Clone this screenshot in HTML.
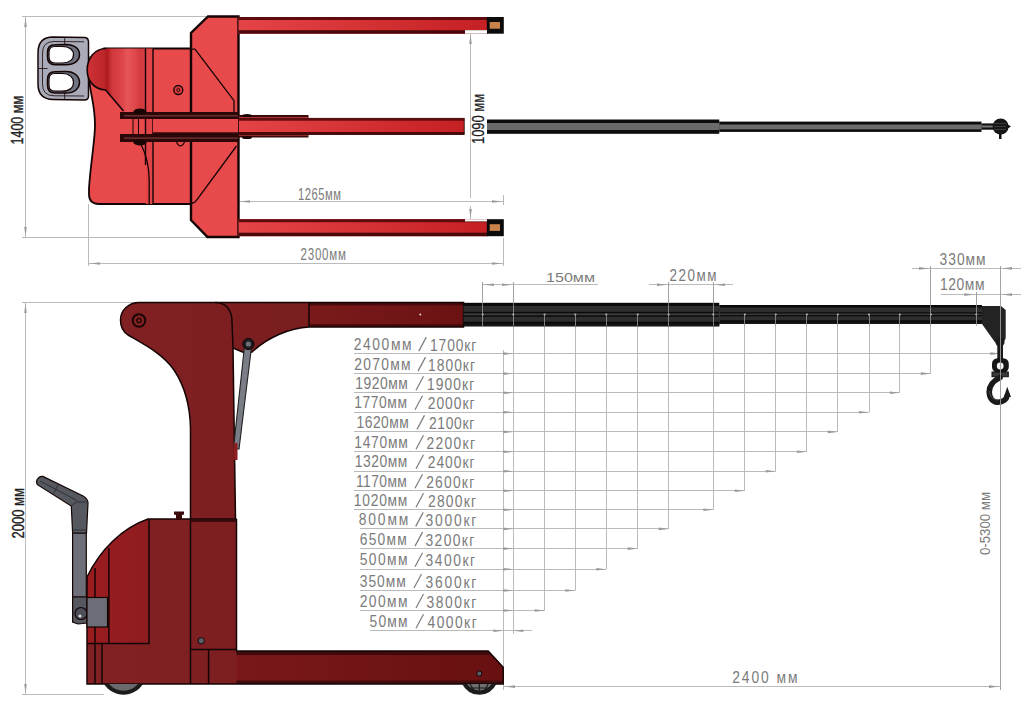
<!DOCTYPE html><html><head><meta charset="utf-8"><style>
html,body{margin:0;padding:0;background:#fff;width:1024px;height:712px;overflow:hidden}
svg{display:block;font-family:"Liberation Sans", sans-serif}
</style></head><body>
<svg width="1024" height="712" viewBox="0 0 1024 712">
<defs>
<linearGradient id="gFork" x1="0" x2="1" y1="0" y2="0"><stop offset="0" stop-color="#e54446"/><stop offset="1" stop-color="#c52023"/></linearGradient>
<linearGradient id="gBulge" x1="0" x2="1" y1="0" y2="0">
 <stop offset="0" stop-color="#cf3336"/><stop offset="0.28" stop-color="#bd272a"/><stop offset="0.34" stop-color="#ae1c20"/><stop offset="0.42" stop-color="#d0383b"/><stop offset="0.6" stop-color="#dd4649"/><stop offset="0.68" stop-color="#e65557"/><stop offset="0.8" stop-color="#e04a4d"/><stop offset="0.9" stop-color="#d33b3e"/><stop offset="1" stop-color="#d53d40"/></linearGradient>
<linearGradient id="gSide" x1="0" x2="1" y1="0" y2="0"><stop offset="0" stop-color="#822123"/><stop offset="0.45" stop-color="#7b1e20"/><stop offset="1" stop-color="#741a1b"/></linearGradient>
<linearGradient id="gLeg" x1="0" x2="1" y1="0" y2="0"><stop offset="0" stop-color="#7a1819"/><stop offset="1" stop-color="#681011"/></linearGradient>
<linearGradient id="gBoomR" x1="0" x2="1" y1="0" y2="0"><stop offset="0" stop-color="#7a1a1b"/><stop offset="1" stop-color="#6c1213"/></linearGradient>
<linearGradient id="gNose" x1="0" x2="1" y1="0" y2="0"><stop offset="0" stop-color="#9a1c20"/><stop offset="1" stop-color="#8e1d20"/></linearGradient>
</defs>

<line x1="22" y1="16.5" x2="208" y2="16.5" stroke="#bababa" stroke-width="1"/>
<line x1="22" y1="237.5" x2="207" y2="237.5" stroke="#bababa" stroke-width="1"/>
<line x1="25.5" y1="16.5" x2="25.5" y2="237.5" stroke="#bababa" stroke-width="1"/>
<path d="M25.5,18 L24.2,27 L26.8,27 Z" fill="#9a9a9a"/>
<path d="M25.5,236 L24.2,227 L26.8,227 Z" fill="#9a9a9a"/>
<text transform="translate(22.5,144.5) rotate(-90)" x="0" y="0" font-size="16" fill="#1e1e1e" stroke="#1e1e1e" stroke-width="0.35" textLength="48.5" lengthAdjust="spacingAndGlyphs">1400 мм</text>
<line x1="88.5" y1="204" x2="88.5" y2="266" stroke="#bababa" stroke-width="1"/>
<line x1="88.5" y1="263.5" x2="503.5" y2="263.5" stroke="#bababa" stroke-width="1"/>
<path d="M90,263.5 L100,262.2 L100,264.8 Z" fill="#9a9a9a"/>
<path d="M502,263.5 L492,262.2 L492,264.8 Z" fill="#9a9a9a"/>
<line x1="503.5" y1="238" x2="503.5" y2="266" stroke="#bababa" stroke-width="1"/>
<text transform="translate(300.5,259.6) scale(0.7,1)" x="0" y="0" font-size="16.5" fill="#7b7b7b" textLength="65.0" lengthAdjust="spacing" >2300мм</text>
<line x1="238" y1="201.5" x2="503.5" y2="201.5" stroke="#bababa" stroke-width="1"/>
<path d="M240,201.5 L250,200.2 L250,202.8 Z" fill="#9a9a9a"/>
<path d="M502,201.5 L492,200.2 L492,202.8 Z" fill="#9a9a9a"/>
<line x1="503.5" y1="195" x2="503.5" y2="205" stroke="#bababa" stroke-width="1"/>
<text transform="translate(298.0,199.6) scale(0.68,1)" x="0" y="0" font-size="16.5" fill="#7b7b7b" textLength="63.24" lengthAdjust="spacing" >1265мм</text>
<line x1="470.5" y1="34" x2="470.5" y2="198" stroke="#bababa" stroke-width="1"/>
<line x1="470.5" y1="206" x2="470.5" y2="219" stroke="#bababa" stroke-width="1"/>
<path d="M470.5,35 L469.2,44 L471.8,44 Z" fill="#9a9a9a"/>
<path d="M470.5,218 L469.2,209 L471.8,209 Z" fill="#9a9a9a"/>
<text transform="translate(484,144) rotate(-90)" x="0" y="0" font-size="16" fill="#1e1e1e" stroke="#1e1e1e" stroke-width="0.3" textLength="50" lengthAdjust="spacingAndGlyphs">1090 мм</text>
<g stroke="#140404" stroke-width="1.5">
<path d="M84.7,56 L89,56 L89,79.5 L84.7,79.5 Z" fill="#8a8d98" stroke-width="0.8"/>
<path d="M53,37 L85,37.5 Q88.5,38 88.5,42 L88.5,96 Q88.5,100 84.5,100 L53,99.5 Q38,99 38,84 L38,53 Q38,37 53,37 Z" fill="#a9acb8"/>
<path d="M84,41.8 L54,41.5 Q42.5,41.5 42.5,53 L42.5,84 Q42.5,95.8 54,95.8 L84,96" fill="none" stroke-width="0.8"/>
<path d="M64.7,37.5 L64.7,44.5 M38.5,68.5 L47.5,68.5 M64.7,93 L64.7,99.5" fill="none" stroke-width="0.8"/>
<path d="M55,44.8 L66,44.5 C74.5,44.5 79.5,49 79.5,54.5 C79.5,60.5 74.5,64.8 66,64.8 L55,64.8 Q47.5,64.8 47.5,57 L47.5,52.5 Q47.5,44.8 55,44.8 Z" fill="#6f7281"/>
<path d="M62,46.5 C69.5,46.5 73.5,50 73.5,54.5 C73.5,59.5 69.5,63 62,63 L55,63 Q49,63 49,57 L49,52.5 Q49,46.5 55,46.5 Z" fill="#fff" stroke-width="1.2"/>
<path d="M55,71.8 L66,71.6 C74.5,71.6 79.5,76.5 79.5,82.3 C79.5,88.5 74.5,93 66,93 L55,93 Q47.5,93 47.5,85.2 L47.5,79.5 Q47.5,71.8 55,71.8 Z" fill="#6f7281"/>
<path d="M62,73.5 C69.5,73.5 73.5,77.5 73.5,82.3 C73.5,87.5 69.5,91.2 62,91.2 L55,91.2 Q49,91.2 49,85.2 L49,79.5 Q49,73.5 55,73.5 Z" fill="#fff" stroke-width="1.2"/>
</g>
<path d="M104,48.5 L191,48.5 L191,204 L99,204 Q89,204 89,194 L89,188 C91,160 95,140 95,125 C95,105 90,92 89.5,82 Z" fill="#e84a4c" stroke="#140404" stroke-width="1.8"/>
<path d="M106,48.5 L146,48.5 L146,112 L123.5,112 L105.6,90 C93,89 87.2,80 87.2,70 C87.2,58 95,48.5 106,48.5 Z" fill="url(#gBulge)"/>
<path d="M106,48.5 C95,48.5 87.2,58 87.2,70 C87.2,80 93,89 105.6,90 L123.5,111" fill="none" stroke="#140404" stroke-width="1.6"/>
<rect x="146" y="48.5" width="7" height="155.5" fill="#e04446"/>
<path d="M145.5,48.5 L145.5,165" stroke="#140404" stroke-width="1.4"/>
<line x1="153" y1="48.5" x2="153" y2="204" stroke="#140404" stroke-width="1.4"/>
<path d="M140.8,144 C145,152 149,165 149.2,180 L149.2,204" fill="none" stroke="#140404" stroke-width="1.3"/>

<path d="M208,16.5 L238.5,16.5 L238.5,237 L207.5,237 L191,220 L191,33 Z" fill="#e84a4c" stroke="#140404" stroke-width="2.4"/>
<path d="M191,49.2 L195,49.2 L234,100.7 L234,113" fill="none" stroke="#140404" stroke-width="1.3"/>
<path d="M236.5,146 L196.7,200 Q195,203 191,203.5" fill="none" stroke="#140404" stroke-width="1.3"/>
<circle cx="178.3" cy="90" r="4.5" fill="#d23a3c" stroke="#140404" stroke-width="1.3"/>
<circle cx="178.3" cy="90" r="1.5" fill="none" stroke="#140404" stroke-width="0.8"/>
<path d="M176,141 Q180.5,151 185,141" fill="none" stroke="#140404" stroke-width="1.2"/>

<rect x="238.5" y="17" width="249" height="16.700000000000003" fill="url(#gFork)"/>
<rect x="238.5" y="17" width="249" height="3" fill="#5e0b0d"/>
<rect x="238.5" y="30.200000000000003" width="249" height="3.5" fill="#4a080a"/>
<rect x="486.8" y="17" width="17" height="16.700000000000003" fill="#0b0b0b"/>
<rect x="489.7" y="22" width="10.3" height="6.7" fill="#c9834a"/>
<rect x="238.5" y="219.2" width="249" height="17.0" fill="url(#gFork)"/>
<rect x="238.5" y="219.2" width="249" height="3" fill="#5e0b0d"/>
<rect x="238.5" y="232.7" width="249" height="3.5" fill="#4a080a"/>
<rect x="486.8" y="219.2" width="17" height="17.0" fill="#0b0b0b"/>
<rect x="489.7" y="224.2" width="10.3" height="6.7" fill="#c9834a"/>
<rect x="465" y="30.2" width="22" height="3.5" fill="#fff"/>
<rect x="465" y="219.2" width="22" height="2.2" fill="#fff"/>
<rect x="238.5" y="115" width="70" height="22.5" fill="#3b0a0b"/>
<rect x="238.5" y="117.2" width="70" height="18.3" fill="#e04a4c"/>
<rect x="120" y="112" width="118.5" height="7" fill="#2c0708"/>
<rect x="120" y="134" width="118.5" height="8" fill="#2c0708"/>
<rect x="124" y="115.2" width="114" height="1.2" fill="#7a3a3b"/>
<rect x="124" y="137.5" width="114" height="1.2" fill="#7a3a3b"/>
<rect x="153" y="119" width="85.5" height="15" fill="#e84a4c"/>
<rect x="153" y="132.3" width="85.5" height="1.8" fill="#2c0708"/>
<rect x="238.5" y="118.3" width="225.7" height="16.2" fill="url(#gFork)" stroke="#140404" stroke-width="0.8"/>
<rect x="238.5" y="118.3" width="225.7" height="2.4" fill="#5e0b0d"/>
<rect x="238.5" y="132" width="225.7" height="2.5" fill="#4a080a"/>
<path d="M133,119 L133,134 M138.5,119 L138.5,134" stroke="#140404" stroke-width="1"/>
<ellipse cx="140" cy="111.5" rx="6.5" ry="3" fill="#1a0505"/>
<ellipse cx="140" cy="142.5" rx="6.5" ry="3" fill="#1a0505"/>
<ellipse cx="247" cy="115.5" rx="5" ry="1.6" fill="#1a0505"/>
<ellipse cx="247" cy="137.5" rx="5" ry="1.6" fill="#1a0505"/>

<rect x="487" y="119.5" width="232.3" height="14.3" fill="#0c0c0c"/>
<rect x="487" y="123" width="232.3" height="7" fill="#6a6a6a"/>
<rect x="719.3" y="121.6" width="262.2" height="10.3" fill="#0c0c0c"/>
<rect x="719.3" y="124.5" width="262.2" height="4.9" fill="#6a6a6a"/>
<rect x="981.5" y="123.4" width="13" height="6.3" fill="#111"/>
<rect x="981.5" y="125.5" width="13" height="2" fill="#777"/>
<circle cx="1000.6" cy="126.5" r="8" fill="#161616"/>
<path d="M1007,124 L1011,126.5 L1007,129 Z" fill="#111"/>
<rect x="999" y="133" width="2.5" height="6" fill="#111"/>
<path d="M994,123.5 L1006,123.5 M994,126.5 L1006,126.5 M994,129.5 L1006,129.5" stroke="#555" stroke-width="0.6"/>

<line x1="22" y1="302.5" x2="135" y2="302.5" stroke="#bababa" stroke-width="1"/>
<line x1="22" y1="694.5" x2="104" y2="694.5" stroke="#bababa" stroke-width="1"/>
<line x1="25.5" y1="302.5" x2="25.5" y2="694.5" stroke="#bababa" stroke-width="1"/>
<path d="M25.5,304 L24.2,313 L26.8,313 Z" fill="#9a9a9a"/>
<path d="M25.5,693 L24.2,684 L26.8,684 Z" fill="#9a9a9a"/>
<text transform="translate(23.6,538.6) rotate(-90)" x="0" y="0" font-size="16.5" fill="#1e1e1e" stroke="#1e1e1e" stroke-width="0.35" textLength="50.60000000000002" lengthAdjust="spacingAndGlyphs">2000 мм</text>
<line x1="513.5" y1="314" x2="513.5" y2="634" stroke="#bababa" stroke-width="1"/>
<line x1="544.5" y1="314" x2="544.5" y2="610.5" stroke="#bababa" stroke-width="1"/>
<line x1="575.5" y1="314" x2="575.5" y2="590.5" stroke="#bababa" stroke-width="1"/>
<line x1="606.5" y1="314" x2="606.5" y2="569.2" stroke="#bababa" stroke-width="1"/>
<line x1="637.5" y1="314" x2="637.5" y2="548.6" stroke="#bababa" stroke-width="1"/>
<line x1="668.5" y1="314" x2="668.5" y2="528.9" stroke="#bababa" stroke-width="1"/>
<line x1="713.5" y1="314" x2="713.5" y2="509.8" stroke="#bababa" stroke-width="1"/>
<line x1="744.5" y1="314" x2="744.5" y2="490.7" stroke="#bababa" stroke-width="1"/>
<line x1="775.5" y1="314" x2="775.5" y2="471.2" stroke="#bababa" stroke-width="1"/>
<line x1="806.5" y1="314" x2="806.5" y2="451.7" stroke="#bababa" stroke-width="1"/>
<line x1="837.5" y1="314" x2="837.5" y2="431.9" stroke="#bababa" stroke-width="1"/>
<line x1="869.5" y1="314" x2="869.5" y2="412.2" stroke="#bababa" stroke-width="1"/>
<line x1="899.5" y1="314" x2="899.5" y2="392.7" stroke="#bababa" stroke-width="1"/>
<line x1="930.5" y1="314" x2="930.5" y2="373.6" stroke="#bababa" stroke-width="1"/>
<line x1="976.5" y1="314" x2="976.5" y2="306" stroke="#bababa" stroke-width="1"/>
<line x1="1000.5" y1="314" x2="1000.5" y2="690" stroke="#bababa" stroke-width="1"/>
<line x1="503.5" y1="350" x2="503.5" y2="690" stroke="#bababa" stroke-width="1"/>
<line x1="354" y1="353.5" x2="1000.4" y2="353.5" stroke="#bababa" stroke-width="1"/>
<path d="M513.3,353.6 L503.29999999999995,352.3 L503.29999999999995,354.90000000000003 Z" fill="#9a9a9a"/>
<path d="M1000.4,353.6 L990.4,352.3 L990.4,354.90000000000003 Z" fill="#9a9a9a"/>
<line x1="354" y1="373.5" x2="930.9" y2="373.5" stroke="#bababa" stroke-width="1"/>
<path d="M513.3,373.6 L503.29999999999995,372.3 L503.29999999999995,374.90000000000003 Z" fill="#9a9a9a"/>
<path d="M930.9,373.6 L920.9,372.3 L920.9,374.90000000000003 Z" fill="#9a9a9a"/>
<line x1="354" y1="392.5" x2="899.8" y2="392.5" stroke="#bababa" stroke-width="1"/>
<path d="M513.3,392.7 L503.29999999999995,391.4 L503.29999999999995,394.0 Z" fill="#9a9a9a"/>
<path d="M899.8,392.7 L889.8,391.4 L889.8,394.0 Z" fill="#9a9a9a"/>
<line x1="354" y1="412.5" x2="869" y2="412.5" stroke="#bababa" stroke-width="1"/>
<path d="M513.3,412.2 L503.29999999999995,410.9 L503.29999999999995,413.5 Z" fill="#9a9a9a"/>
<path d="M869,412.2 L859,410.9 L859,413.5 Z" fill="#9a9a9a"/>
<line x1="354" y1="431.5" x2="837.8" y2="431.5" stroke="#bababa" stroke-width="1"/>
<path d="M513.3,431.9 L503.29999999999995,430.59999999999997 L503.29999999999995,433.2 Z" fill="#9a9a9a"/>
<path d="M837.8,431.9 L827.8,430.59999999999997 L827.8,433.2 Z" fill="#9a9a9a"/>
<line x1="354" y1="451.5" x2="806.9" y2="451.5" stroke="#bababa" stroke-width="1"/>
<path d="M513.3,451.7 L503.29999999999995,450.4 L503.29999999999995,453.0 Z" fill="#9a9a9a"/>
<path d="M806.9,451.7 L796.9,450.4 L796.9,453.0 Z" fill="#9a9a9a"/>
<line x1="354" y1="471.5" x2="775.7" y2="471.5" stroke="#bababa" stroke-width="1"/>
<path d="M513.3,471.2 L503.29999999999995,469.9 L503.29999999999995,472.5 Z" fill="#9a9a9a"/>
<path d="M775.7,471.2 L765.7,469.9 L765.7,472.5 Z" fill="#9a9a9a"/>
<line x1="354" y1="490.5" x2="744.8" y2="490.5" stroke="#bababa" stroke-width="1"/>
<path d="M513.3,490.7 L503.29999999999995,489.4 L503.29999999999995,492.0 Z" fill="#9a9a9a"/>
<path d="M744.8,490.7 L734.8,489.4 L734.8,492.0 Z" fill="#9a9a9a"/>
<line x1="354" y1="509.5" x2="713.3" y2="509.5" stroke="#bababa" stroke-width="1"/>
<path d="M513.3,509.8 L503.29999999999995,508.5 L503.29999999999995,511.1 Z" fill="#9a9a9a"/>
<path d="M713.3,509.8 L703.3,508.5 L703.3,511.1 Z" fill="#9a9a9a"/>
<line x1="360" y1="528.5" x2="668.6" y2="528.5" stroke="#bababa" stroke-width="1"/>
<path d="M513.3,528.9 L503.29999999999995,527.6 L503.29999999999995,530.1999999999999 Z" fill="#9a9a9a"/>
<path d="M668.6,528.9 L658.6,527.6 L658.6,530.1999999999999 Z" fill="#9a9a9a"/>
<line x1="360" y1="548.5" x2="637.7" y2="548.5" stroke="#bababa" stroke-width="1"/>
<path d="M513.3,548.6 L503.29999999999995,547.3000000000001 L503.29999999999995,549.9 Z" fill="#9a9a9a"/>
<path d="M637.7,548.6 L627.7,547.3000000000001 L627.7,549.9 Z" fill="#9a9a9a"/>
<line x1="360" y1="569.5" x2="606.3" y2="569.5" stroke="#bababa" stroke-width="1"/>
<path d="M513.3,569.2 L503.29999999999995,567.9000000000001 L503.29999999999995,570.5 Z" fill="#9a9a9a"/>
<path d="M606.3,569.2 L596.3,567.9000000000001 L596.3,570.5 Z" fill="#9a9a9a"/>
<line x1="360" y1="590.5" x2="575.3" y2="590.5" stroke="#bababa" stroke-width="1"/>
<path d="M513.3,590.5 L503.29999999999995,589.2 L503.29999999999995,591.8 Z" fill="#9a9a9a"/>
<path d="M575.3,590.5 L565.3,589.2 L565.3,591.8 Z" fill="#9a9a9a"/>
<line x1="360" y1="610.5" x2="544.6" y2="610.5" stroke="#bababa" stroke-width="1"/>
<path d="M513.3,610.5 L503.29999999999995,609.2 L503.29999999999995,611.8 Z" fill="#9a9a9a"/>
<path d="M544.6,610.5 L534.6,609.2 L534.6,611.8 Z" fill="#9a9a9a"/>
<line x1="370" y1="630.5" x2="532" y2="630.5" stroke="#bababa" stroke-width="1"/>
<path d="M503.4,630.8 L493.4,629.5 L493.4,632.0999999999999 Z" fill="#9a9a9a"/>
<path d="M513.3,630.8 L523.3,629.5 L523.3,632.0999999999999 Z" fill="#9a9a9a"/>
<line x1="482.5" y1="282" x2="482.5" y2="303" stroke="#bababa" stroke-width="1"/>
<line x1="513.5" y1="282" x2="513.5" y2="303" stroke="#bababa" stroke-width="1"/>
<line x1="482.7" y1="284.5" x2="598" y2="284.5" stroke="#bababa" stroke-width="1"/>
<path d="M484,284.8 L494,283.5 L494,286.1 Z" fill="#9a9a9a"/>
<path d="M512,284.8 L502,283.5 L502,286.1 Z" fill="#9a9a9a"/>
<text transform="translate(546.0,281.5) scale(1,1)" x="0" y="0" font-size="13.5" fill="#7b7b7b" textLength="49.0" lengthAdjust="spacingAndGlyphs" >150мм</text>
<line x1="668.5" y1="282" x2="668.5" y2="303" stroke="#bababa" stroke-width="1"/>
<line x1="713.5" y1="282" x2="713.5" y2="303" stroke="#bababa" stroke-width="1"/>
<line x1="649" y1="284.5" x2="733" y2="284.5" stroke="#bababa" stroke-width="1"/>
<path d="M667,284.8 L657,283.5 L657,286.1 Z" fill="#9a9a9a"/>
<path d="M715,284.8 L725,283.5 L725,286.1 Z" fill="#9a9a9a"/>
<text transform="translate(669.5,281.1) scale(0.84,1)" x="0" y="0" font-size="16" fill="#7b7b7b" textLength="55.95" lengthAdjust="spacing" >220мм</text>
<line x1="930.5" y1="266" x2="930.5" y2="306" stroke="#bababa" stroke-width="1"/>
<line x1="1000.5" y1="266" x2="1000.5" y2="306" stroke="#bababa" stroke-width="1"/>
<line x1="912" y1="268.5" x2="1021" y2="268.5" stroke="#bababa" stroke-width="1"/>
<path d="M929,268.4 L919,267.09999999999997 L919,269.7 Z" fill="#9a9a9a"/>
<path d="M1002,268.4 L1012,267.09999999999997 L1012,269.7 Z" fill="#9a9a9a"/>
<text transform="translate(939.6,264.5) scale(0.84,1)" x="0" y="0" font-size="16.5" fill="#7b7b7b" textLength="54.76" lengthAdjust="spacing" >330мм</text>
<line x1="976.5" y1="292" x2="976.5" y2="306" stroke="#bababa" stroke-width="1"/>
<line x1="940.6" y1="294.5" x2="1021" y2="294.5" stroke="#bababa" stroke-width="1"/>
<path d="M974.3,294.6 L964.3,293.3 L964.3,295.90000000000003 Z" fill="#9a9a9a"/>
<path d="M1002,294.6 L1012,293.3 L1012,295.90000000000003 Z" fill="#9a9a9a"/>
<text transform="translate(940.0,290) scale(0.84,1)" x="0" y="0" font-size="16.5" fill="#7b7b7b" textLength="52.98" lengthAdjust="spacing" >120мм</text>
<line x1="503.4" y1="686.5" x2="1000.4" y2="686.5" stroke="#bababa" stroke-width="1"/>
<path d="M505,686.6 L515,685.3000000000001 L515,687.9 Z" fill="#9a9a9a"/>
<path d="M999,686.6 L989,685.3000000000001 L989,687.9 Z" fill="#9a9a9a"/>
<text transform="translate(732.2,683.4) scale(0.84,1)" x="0" y="0" font-size="16.5" fill="#7b7b7b" textLength="77.74" lengthAdjust="spacing" >2400 мм</text>
<text transform="translate(989.5,555) rotate(-90)" x="0" y="0" font-size="14.5" fill="#7b7b7b" textLength="63" lengthAdjust="spacingAndGlyphs">0-5300 мм</text>
<text transform="translate(353.8,349.6) scale(0.84,1)" x="0" y="0" font-size="16.5" fill="#7b7b7b" textLength="68.69" lengthAdjust="spacing" >2400мм</text>
<text transform="translate(429.9,350.6) scale(0.84,1)" x="0" y="0" font-size="16.5" fill="#7b7b7b" textLength="55.36" lengthAdjust="spacing" >1700кг</text>
<line x1="418.8" y1="351.1" x2="426.3" y2="337.1" stroke="#7b7b7b" stroke-width="1.2"/>
<text transform="translate(354.2,369.6) scale(0.84,1)" x="0" y="0" font-size="16.5" fill="#7b7b7b" textLength="67.14" lengthAdjust="spacing" >2070мм</text>
<text transform="translate(428.0,370.6) scale(0.84,1)" x="0" y="0" font-size="16.5" fill="#7b7b7b" textLength="55.95" lengthAdjust="spacing" >1800кг</text>
<line x1="418" y1="371.1" x2="425.5" y2="357.1" stroke="#7b7b7b" stroke-width="1.2"/>
<text transform="translate(355.3,388.7) scale(0.84,1)" x="0" y="0" font-size="16.5" fill="#7b7b7b" textLength="62.5" lengthAdjust="spacing" >1920мм</text>
<text transform="translate(427.1,389.7) scale(0.84,1)" x="0" y="0" font-size="16.5" fill="#7b7b7b" textLength="56.07" lengthAdjust="spacing" >1900кг</text>
<line x1="416" y1="390.2" x2="423.5" y2="376.2" stroke="#7b7b7b" stroke-width="1.2"/>
<text transform="translate(354.2,408.2) scale(0.84,1)" x="0" y="0" font-size="16.5" fill="#7b7b7b" textLength="62.74" lengthAdjust="spacing" >1770мм</text>
<text transform="translate(427.7,409.2) scale(0.84,1)" x="0" y="0" font-size="16.5" fill="#7b7b7b" textLength="55.83" lengthAdjust="spacing" >2000кг</text>
<line x1="415" y1="409.7" x2="422.5" y2="395.7" stroke="#7b7b7b" stroke-width="1.2"/>
<text transform="translate(356.6,427.9) scale(0.84,1)" x="0" y="0" font-size="16.5" fill="#7b7b7b" textLength="62.02" lengthAdjust="spacing" >1620мм</text>
<text transform="translate(429.0,428.9) scale(0.84,1)" x="0" y="0" font-size="16.5" fill="#7b7b7b" textLength="53.81" lengthAdjust="spacing" >2100кг</text>
<line x1="417" y1="429.4" x2="424.5" y2="415.4" stroke="#7b7b7b" stroke-width="1.2"/>
<text transform="translate(354.2,447.7) scale(0.84,1)" x="0" y="0" font-size="16.5" fill="#7b7b7b" textLength="63.81" lengthAdjust="spacing" >1470мм</text>
<text transform="translate(426.6,448.7) scale(0.84,1)" x="0" y="0" font-size="16.5" fill="#7b7b7b" textLength="57.62" lengthAdjust="spacing" >2200кг</text>
<line x1="416" y1="449.2" x2="423.5" y2="435.2" stroke="#7b7b7b" stroke-width="1.2"/>
<text transform="translate(354.8,467.2) scale(0.84,1)" x="0" y="0" font-size="16.5" fill="#7b7b7b" textLength="62.38" lengthAdjust="spacing" >1320мм</text>
<text transform="translate(427.7,468.2) scale(0.84,1)" x="0" y="0" font-size="16.5" fill="#7b7b7b" textLength="55.83" lengthAdjust="spacing" >2400кг</text>
<line x1="416" y1="468.7" x2="423.5" y2="454.7" stroke="#7b7b7b" stroke-width="1.2"/>
<text transform="translate(356.0,486.7) scale(0.84,1)" x="0" y="0" font-size="16.5" fill="#7b7b7b" textLength="60.6" lengthAdjust="spacing" >1170мм</text>
<text transform="translate(426.2,487.7) scale(0.84,1)" x="0" y="0" font-size="16.5" fill="#7b7b7b" textLength="57.14" lengthAdjust="spacing" >2600кг</text>
<line x1="415" y1="488.2" x2="422.5" y2="474.2" stroke="#7b7b7b" stroke-width="1.2"/>
<text transform="translate(353.8,505.8) scale(0.84,1)" x="0" y="0" font-size="16.5" fill="#7b7b7b" textLength="63.81" lengthAdjust="spacing" >1020мм</text>
<text transform="translate(428.0,506.8) scale(0.84,1)" x="0" y="0" font-size="16.5" fill="#7b7b7b" textLength="57.14" lengthAdjust="spacing" >2800кг</text>
<line x1="416" y1="507.3" x2="423.5" y2="493.3" stroke="#7b7b7b" stroke-width="1.2"/>
<text transform="translate(358.7,524.9) scale(0.84,1)" x="0" y="0" font-size="16.5" fill="#7b7b7b" textLength="59.05" lengthAdjust="spacing" >800мм</text>
<text transform="translate(425.5,525.9) scale(0.84,1)" x="0" y="0" font-size="16.5" fill="#7b7b7b" textLength="60.48" lengthAdjust="spacing" >3000кг</text>
<line x1="415.7" y1="526.4" x2="423.2" y2="512.4" stroke="#7b7b7b" stroke-width="1.2"/>
<text transform="translate(359.7,544.6) scale(0.84,1)" x="0" y="0" font-size="16.5" fill="#7b7b7b" textLength="56.19" lengthAdjust="spacing" >650мм</text>
<text transform="translate(425.5,545.6) scale(0.84,1)" x="0" y="0" font-size="16.5" fill="#7b7b7b" textLength="58.21" lengthAdjust="spacing" >3200кг</text>
<line x1="415" y1="546.1" x2="422.5" y2="532.1" stroke="#7b7b7b" stroke-width="1.2"/>
<text transform="translate(359.7,565.2) scale(0.84,1)" x="0" y="0" font-size="16.5" fill="#7b7b7b" textLength="56.9" lengthAdjust="spacing" >500мм</text>
<text transform="translate(425.5,566.2) scale(0.84,1)" x="0" y="0" font-size="16.5" fill="#7b7b7b" textLength="59.05" lengthAdjust="spacing" >3400кг</text>
<line x1="415" y1="566.7" x2="422.5" y2="552.7" stroke="#7b7b7b" stroke-width="1.2"/>
<text transform="translate(359.7,586.5) scale(0.84,1)" x="0" y="0" font-size="16.5" fill="#7b7b7b" textLength="55.0" lengthAdjust="spacing" >350мм</text>
<text transform="translate(425.5,587.5) scale(0.84,1)" x="0" y="0" font-size="16.5" fill="#7b7b7b" textLength="60.48" lengthAdjust="spacing" >3600кг</text>
<line x1="414" y1="588.0" x2="421.5" y2="574.0" stroke="#7b7b7b" stroke-width="1.2"/>
<text transform="translate(359.7,606.5) scale(0.84,1)" x="0" y="0" font-size="16.5" fill="#7b7b7b" textLength="56.9" lengthAdjust="spacing" >200мм</text>
<text transform="translate(426.5,607.5) scale(0.84,1)" x="0" y="0" font-size="16.5" fill="#7b7b7b" textLength="59.29" lengthAdjust="spacing" >3800кг</text>
<line x1="416" y1="608.0" x2="423.5" y2="594.0" stroke="#7b7b7b" stroke-width="1.2"/>
<text transform="translate(369.5,626.8) scale(0.84,1)" x="0" y="0" font-size="16.5" fill="#7b7b7b" textLength="45.24" lengthAdjust="spacing" >50мм</text>
<text transform="translate(427.5,627.8) scale(0.84,1)" x="0" y="0" font-size="16.5" fill="#7b7b7b" textLength="58.57" lengthAdjust="spacing" >4000кг</text>
<line x1="416" y1="628.3" x2="423.5" y2="614.3" stroke="#7b7b7b" stroke-width="1.2"/>
<path d="M139,302.5 L463.5,302.5 L463.5,327 L309,327 C290,328 268,337 252,352 L246,353.5 L233,348 L235.5,519 L236.5,519 L236.5,651 L488.2,651 L503.2,667.2 L503.2,684 L87,684 L87,577 C100,550 122,528 148,519 L190.5,519 L190.5,428 C190,405 184,385 174,370 C163,354 145,345 128,335 C122,331 120.5,326 120.5,320 C120.5,310 129,302.5 139,302.5 Z" fill="url(#gSide)"/>
<path d="M87,577 C100,550 122,528 148,519 L149,519 L149,643.5 L87,643.5 Z" fill="url(#gNose)"/>
<path d="M236.5,651 L488.2,651 L503.2,667.2 L503.2,684 L236.5,684 Z" fill="url(#gLeg)"/>
<path d="M236.5,651 L488.2,651 L491.9,655 L236.5,655 Z" fill="#3e0a0b"/>
<rect x="236.5" y="680.5" width="266.7" height="3.5" fill="#420b0c"/>
<rect x="309" y="302.5" width="154.5" height="24.5" fill="url(#gBoomR)"/>
<rect x="309" y="302.5" width="154.5" height="3" fill="#4a0a0b"/>
<rect x="309" y="324" width="154.5" height="3" fill="#4a0a0b"/>

<g fill="none" stroke="#140404" stroke-width="1.5">
<path d="M139,302.5 L463.5,302.5 L463.5,327 L309,327 C290,328 268,337 252,352 L246,353.5 L233,348"/>
<path d="M309,302.5 L309,327"/>
<path d="M215,302.5 C226,302.5 232,310 232,322 L233,348 L235.5,519"/>
<path d="M236.5,519 L236.5,651 L488.2,651 L503.2,667.2 L503.2,684 L87,684 L87,577 C100,550 122,528 148,519 L236.5,519"/>
<path d="M190.5,519 L190.5,428 C190,405 184,385 174,370 C163,354 145,345 128,335 C122,331 120.5,326 120.5,320 C120.5,310 129,302.5 139,302.5"/>
<path d="M149,519 L149,643.5 L87,643.5"/>
<path d="M108.9,548 L108.9,643.5"/>
<path d="M95,568 L95,684"/>
<path d="M102,643.5 L102,684"/>
<path d="M190.5,519 L190.5,684"/>
<path d="M190.5,649.4 L236.5,649.4"/>
<path d="M208.6,649.4 L208.6,684"/>
</g>
<rect x="190.5" y="520" width="46" height="2" fill="#3a0a0b"/>
<circle cx="139" cy="320.5" r="6.3" fill="none" stroke="#1a0505" stroke-width="2"/>
<circle cx="139" cy="320.5" r="2.2" fill="none" stroke="#1a0505" stroke-width="1.2"/>
<circle cx="201.2" cy="640.8" r="3.2" fill="#5a5d66" stroke="#140404" stroke-width="1"/>
<circle cx="420.3" cy="314.5" r="1" fill="#ddd"/>
<path d="M176,519 L176,515 L174,514.5 L174,511.5 L184,511.5 L184,514.5 L182,515 L182,519 Z" fill="#3a0a0b"/>

<path d="M244.5,346 L251.5,347 L239,449 L233.5,448 Z" fill="#7a7d86" stroke="#222" stroke-width="1.1"/>
<rect x="233.5" y="443" width="4" height="17" fill="#8a1d20"/>
<circle cx="248.4" cy="344" r="5.6" fill="#1c1c1f" stroke="#140404" stroke-width="1"/>
<circle cx="248.4" cy="344" r="2.6" fill="#6c6f78"/>

<g stroke="#140404" stroke-width="1.2">
<path d="M72.6,533 L86.3,533 L86.3,597 L72.6,597 Z" fill="#6d7079"/>
<path d="M42.8,476.4 L83.1,496 Q88,499 88,503 L86.5,533 L72.6,533 L71.3,506 L37.4,484.7 Q35.5,481 38,478.3 Q40,476 42.8,476.4 Z" fill="#55585f"/>
<path d="M72.6,597 L87,597 L87,623 L78,624 L72.6,622 Z" fill="#55585f"/>
<circle cx="81" cy="613.5" r="6" fill="#4c4f57"/>
<rect x="87" y="597.5" width="20.5" height="29.5" fill="#6b6e77"/>
</g>
<path d="M40,481 L77,500.5 M58.5,484 L53.6,493.5 M71.3,506 L76,502 L88,502 M72.5,530 L86.5,530" stroke="#2a2c31" stroke-width="0.9" fill="none"/>
<circle cx="80" cy="616" r="1.6" fill="#ddd"/>

<path d="M104,684 A23.2,23.2 0 0 0 143,684 Z" fill="#1c1c1c"/>
<path d="M109,684 A19,19 0 0 0 138,684 Z" fill="#6a6a6e"/>
<path d="M462.2,684 A18.9,18.9 0 0 0 496.4,684 Z" fill="#1c1c1c"/>
<path d="M467,684 A15,15 0 0 0 491.6,684 Z" fill="#707074"/>
<path d="M470,684 L475,692 M479.3,684 L479.3,693 M488,684 L484,692 M468,688 L491,688" stroke="#1c1c1c" stroke-width="1.2"/>
<circle cx="479.3" cy="673.6" r="2.6" fill="#5a5d66" stroke="#140404" stroke-width="1"/>

<rect x="463.5" y="302.8" width="255.79999999999995" height="23.5" fill="#0a0a0a"/>
<rect x="463.5" y="305.87383966244727" width="255.79999999999995" height="5.949367088607595" fill="#2e2e2e"/>
<rect x="463.5" y="313.31054852320676" width="255.79999999999995" height="1.9831223628691983" fill="#3a3a3a"/>
<rect x="463.5" y="316.78101265822784" width="255.79999999999995" height="4.957805907172996" fill="#2e2e2e"/>
<rect x="463.5" y="323.72194092827004" width="255.79999999999995" height="2.578059071729958" fill="#151515"/>
<rect x="719.3" y="305" width="262.70000000000005" height="19" fill="#0a0a0a"/>
<rect x="719.3" y="307.48523206751054" width="262.70000000000005" height="4.810126582278481" fill="#2e2e2e"/>
<rect x="719.3" y="313.4978902953587" width="262.70000000000005" height="1.6033755274261603" fill="#3a3a3a"/>
<rect x="719.3" y="316.30379746835445" width="262.70000000000005" height="4.0084388185654" fill="#2e2e2e"/>
<rect x="719.3" y="321.915611814346" width="262.70000000000005" height="2.0843881856540083" fill="#151515"/>
<path d="M982,306 L1001,306 L1005.7,310 L1005.7,337.5 C1005.7,341 1002,343 999.3,343 C996,343 995,342 994.8,342 L982,324 Z" fill="#232323"/>
<circle cx="482.7" cy="314.5" r="1" fill="#cfcfcf"/>
<circle cx="513.3" cy="314.5" r="1" fill="#cfcfcf"/>
<circle cx="544.6" cy="314.5" r="1" fill="#cfcfcf"/>
<circle cx="575.3" cy="314.5" r="1" fill="#cfcfcf"/>
<circle cx="606.3" cy="314.5" r="1" fill="#cfcfcf"/>
<circle cx="637.7" cy="314.5" r="1" fill="#cfcfcf"/>
<circle cx="668.6" cy="314.5" r="1" fill="#cfcfcf"/>
<circle cx="713.3" cy="314.5" r="1" fill="#cfcfcf"/>
<circle cx="744.8" cy="314.5" r="1" fill="#cfcfcf"/>
<circle cx="775.7" cy="314.5" r="1" fill="#cfcfcf"/>
<circle cx="806.9" cy="314.5" r="1" fill="#cfcfcf"/>
<circle cx="837.8" cy="314.5" r="1" fill="#cfcfcf"/>
<circle cx="869" cy="314.5" r="1" fill="#cfcfcf"/>
<circle cx="899.8" cy="314.5" r="1" fill="#cfcfcf"/>
<circle cx="930.9" cy="314.5" r="1" fill="#cfcfcf"/>
<circle cx="976.3" cy="314.5" r="1" fill="#cfcfcf"/>
<circle cx="1000" cy="342" r="4.6" fill="#1a1a1a"/>
<rect x="997.3" y="344" width="5.7" height="15" fill="#1a1a1a"/>
<rect x="992" y="358.2" width="16.8" height="14.4" rx="5.5" fill="#151515"/>
<circle cx="1000.2" cy="366" r="3.4" fill="#f2f2f2"/>
<rect x="992" y="372" width="16.3" height="4.7" fill="#3a3a3a" stroke="#111" stroke-width="1"/>
<path d="M1000,377.5 C996,379.5 989,384 989.2,392 C989.5,399.5 994,402.2 998,402.2 C1003,402.2 1006.5,399.5 1007.2,395.5" fill="none" stroke="#1a1a1a" stroke-width="5.6" stroke-linecap="round"/>
<path d="M989.5,391 C990,397 993.5,400 998,400" fill="none" stroke="#555" stroke-width="0.8"/>
<path d="M1004.2,396.5 L1007.2,386.8 L1011,397 Z" fill="#1a1a1a"/>

<line x1="513.5" y1="282" x2="513.5" y2="326" stroke="#9a9a9a" stroke-width="0.8"/>
<line x1="668.5" y1="282" x2="668.5" y2="326" stroke="#9a9a9a" stroke-width="0.8"/>
<line x1="713.5" y1="282" x2="713.5" y2="326" stroke="#9a9a9a" stroke-width="0.8"/>
<line x1="930.5" y1="266" x2="930.5" y2="326" stroke="#9a9a9a" stroke-width="0.8"/>
<line x1="976.5" y1="292" x2="976.5" y2="326" stroke="#9a9a9a" stroke-width="0.8"/>
<line x1="1000.5" y1="266" x2="1000.5" y2="690" stroke="#a0a0a0" stroke-width="0.9"/>
<line x1="482.5" y1="282" x2="482.5" y2="326" stroke="#9a9a9a" stroke-width="0.8"/>
<line x1="544.5" y1="314" x2="544.5" y2="326" stroke="#9a9a9a" stroke-width="0.8"/>
<line x1="575.5" y1="314" x2="575.5" y2="326" stroke="#9a9a9a" stroke-width="0.8"/>
<line x1="606.5" y1="314" x2="606.5" y2="326" stroke="#9a9a9a" stroke-width="0.8"/>
<line x1="637.5" y1="314" x2="637.5" y2="326" stroke="#9a9a9a" stroke-width="0.8"/>
<line x1="744.5" y1="314" x2="744.5" y2="326" stroke="#9a9a9a" stroke-width="0.8"/>
<line x1="775.5" y1="314" x2="775.5" y2="326" stroke="#9a9a9a" stroke-width="0.8"/>
<line x1="806.5" y1="314" x2="806.5" y2="326" stroke="#9a9a9a" stroke-width="0.8"/>
<line x1="837.5" y1="314" x2="837.5" y2="326" stroke="#9a9a9a" stroke-width="0.8"/>
<line x1="869.5" y1="314" x2="869.5" y2="326" stroke="#9a9a9a" stroke-width="0.8"/>
<line x1="899.5" y1="314" x2="899.5" y2="326" stroke="#9a9a9a" stroke-width="0.8"/>
</svg></body></html>
